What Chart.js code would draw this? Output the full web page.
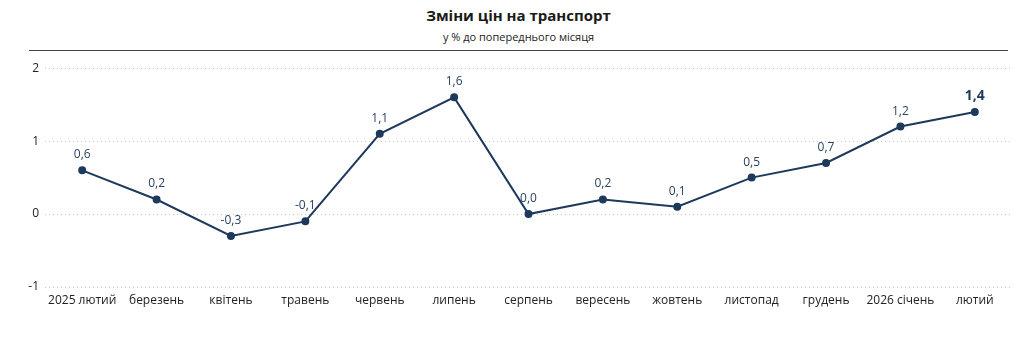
<!DOCTYPE html>
<html lang="uk">
<head>
<meta charset="utf-8">
<script src="https://cdn.jsdelivr.net/npm/chart.js@4"></script>
<style>
  body { margin: 0; background: #fff; font-family: "Open Sans", "Noto Sans", sans-serif; }
  .head { position: absolute; left: 29px; width: 979px; top: 0; height: 50px; border-bottom: 1px solid #444; text-align: center; }
  .head h1 { margin: 0; position: absolute; top: 5px; width: 100%; font-size: 15px; font-weight: 700; color: #1a1a1a; }
  .head p { margin: 0; position: absolute; top: 29px; width: 100%; font-size: 11px; color: #222; }
  .wrap { position: absolute; left: 0; top: 55px; width: 1035px; height: 286px; }
</style>
</head>
<body>
<div class="head">
  <h1>Зміни цін на транспорт</h1>
  <p>у % до попереднього місяця</p>
</div>
<div class="wrap"><canvas id="priceChart"></canvas></div>
<script>
const months = ['2025 лютий', 'березень', 'квітень', 'травень', 'червень', 'липень', 'серпень',
  'вересень', 'жовтень', 'листопад', 'грудень', '2026 січень', 'лютий'];
const changes = [0.6, 0.2, -0.3, -0.1, 1.1, 1.6, 0.0, 0.2, 0.1, 0.5, 0.7, 1.2, 1.4];
const yTicks = [-1, 0, 1, 2];

const lineColor = '#1d3a5c';

// value labels above each point, the latest one is emphasised
const valueLabels = {
  id: 'valueLabels',
  afterDatasetsDraw(chart) {
    const ctx = chart.ctx;
    const meta = chart.getDatasetMeta(0);
    ctx.save();
    ctx.textAlign = 'center';
    ctx.textBaseline = 'alphabetic';
    meta.data.forEach((pt, i) => {
      const last = i === changes.length - 1;
      ctx.font = (last ? '700 14px' : '12px') + ' "Open Sans", sans-serif';
      ctx.fillStyle = last ? '#1d3a5c' : '#2a4360';
      const txt = changes[i].toFixed(1).replace('.', ',');
      ctx.fillText(txt, pt.x, pt.y - 12);
    });
    ctx.restore();
  }
};

new Chart(document.getElementById('priceChart').getContext('2d'), {
  type: 'line',
  data: {
    labels: months,
    datasets: [{
      data: changes,
      borderColor: lineColor,
      backgroundColor: lineColor,
      borderWidth: 2,
      pointRadius: 3,
      pointHoverRadius: 3,
      tension: 0
    }]
  },
  options: {
    responsive: true,
    maintainAspectRatio: false,
    animation: false,
    layout: { padding: { left: 0, right: 23, top: 13, bottom: 30 } },
    plugins: {
      legend: { display: false },
      tooltip: { enabled: false }
    },
    scales: {
      x: {
        offset: true,
        afterFit(scale) { scale.height = 24; },
        grid: { display: false },
        border: { display: false },
        ticks: {
          color: '#222',
          font: { family: '"Open Sans", sans-serif', size: 12 },
          padding: -2,
          maxRotation: 0,
          autoSkip: false
        }
      },
      y: {
        min: yTicks[0],
        max: yTicks[yTicks.length - 1],
        afterFit(scale) { scale.width = 45; },
        afterBuildTicks(scale) { scale.ticks = yTicks.map(v => ({ value: v })); },
        grid: {
          color: '#c8c8c8',
          lineWidth: 1,
          drawTicks: false
        },
        // dotted grid lines
        border: { display: false, dash: [1, 3] },
        ticks: {
          color: '#222',
          font: { family: '"Open Sans", sans-serif', size: 12 },
          padding: 6
        }
      }
    }
  },
  plugins: [valueLabels]
});
</script>
</body>
</html>
